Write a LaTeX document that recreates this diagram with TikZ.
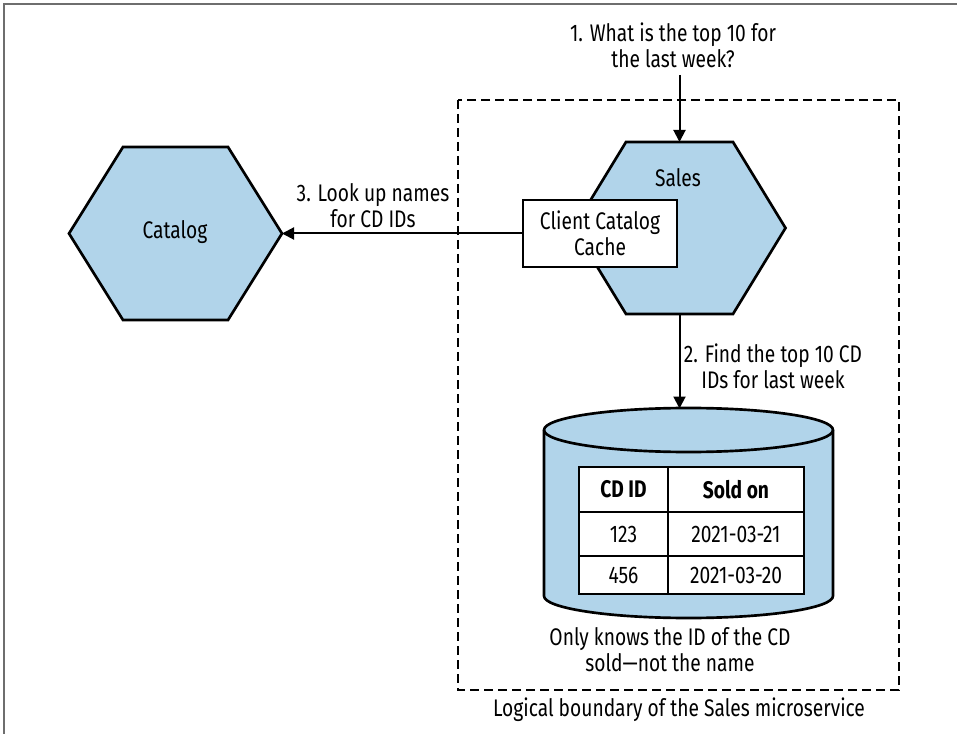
\documentclass[tikz,border=0pt]{standalone}
\usepackage{fontspec}
\setmainfont{Fira Sans}[FakeStretch=0.8]
\usetikzlibrary{arrows.meta,calc}
\definecolor{hexblue}{RGB}{177,212,234}
\definecolor{framegray}{RGB}{110,110,110}
\begin{document}
\begin{tikzpicture}[x=0.75pt,y=-0.75pt,
  txt/.style={font=\fontsize{18}{19.5}\selectfont, align=center, inner sep=0pt},
  hexfill/.style={fill=hexblue, draw=black, line width=2pt},
  conn/.style={draw=black, line width=1.5pt, -{Triangle[length=9pt,width=9pt]}},
  boundary/.style={draw=black, line width=2pt, dash pattern=on 7pt off 3.5pt},
  cachebox/.style={txt, draw=black, fill=white, line width=1.5pt, minimum width=115.5pt, minimum height=50.25pt},
  cell/.style={txt, draw=black, fill=white, line width=1.5pt},
  dbfill/.style={fill=hexblue, draw=black, line width=2pt},
]
\useasboundingbox (0,0) rectangle (957,734);
\fill[white] (0,0) rectangle (957,734);
\draw[framegray, line width=1.2pt] (4,734) -- (4,4) -- (957,4);

% logical boundary
\draw[boundary] (458,100) rectangle (899,690);

% Catalog hexagon
\draw[hexfill] (69,233.5) -- (123,147) -- (228,147) -- (282,233.5) -- (228,320) -- (123,320) -- cycle;
\coordinate (catE) at (282,233.5);
\node[txt] (catalog) at (175,232) {Catalog};

% Sales hexagon
\draw[hexfill] (573.5,228) -- (626,142) -- (733,142) -- (785.5,228) -- (733,314) -- (626,314) -- cycle;
\coordinate (salesN) at (679.5,142);
\coordinate (salesS) at (679.5,314);
\node[txt] (sales) at (678,178) {Sales};

% cache box
\node[cachebox] (cache) at (600,233.5) {Client Catalog\\Cache};

% database cylinder
\draw[dbfill] (544,430) -- (544,596) arc[start angle=180, end angle=0, x radius=144.5, y radius=22]
  -- (833,430) arc[start angle=0, end angle=-180, x radius=144.5, y radius=22] -- cycle;
\draw[black, line width=2pt] (544,430) arc[start angle=180, end angle=0, x radius=144.5, y radius=22];
\coordinate (dbTop) at (679.5,408.5);

% table
\node[cell, minimum width=66.75pt, minimum height=33.75pt] (h1) at (623.5,489.5) {\textbf{CD ID}};
\node[cell, minimum width=102pt, minimum height=33.75pt] (h2) at (736,489.5) {\textbf{Sold on}};
\node[cell, minimum width=66.75pt, minimum height=33pt] (r11) at (623.5,534) {123};
\node[cell, minimum width=102pt, minimum height=33pt] (r12) at (736,534) {2021-03-21};
\node[cell, minimum width=66.75pt, minimum height=28.5pt] (r21) at (623.5,575) {456};
\node[cell, minimum width=102pt, minimum height=28.5pt] (r22) at (736,575) {2021-03-20};

% labels
\node[txt] (q1) at (673,45) {1. What is the top 10 for\\the last week?};
\coordinate (q1s) at (679.5,75);
\node[txt] (q3) at (373,206) {3. Look up names\\for CD IDs};
\node[txt] (q2) at (773,366) {2. Find the top 10 CD\\IDs for last week};
\node[txt] (note) at (670,650) {Only knows the ID of the CD\\sold—not the name};
\node[txt] (bound) at (679,710) {Logical boundary of the Sales microservice};

% connectors
\draw[conn] (q1s) -- (salesN);
\draw[conn] (cache.west) -- (catE);
\draw[conn] (salesS) -- (dbTop);
\end{tikzpicture}
\end{document}
